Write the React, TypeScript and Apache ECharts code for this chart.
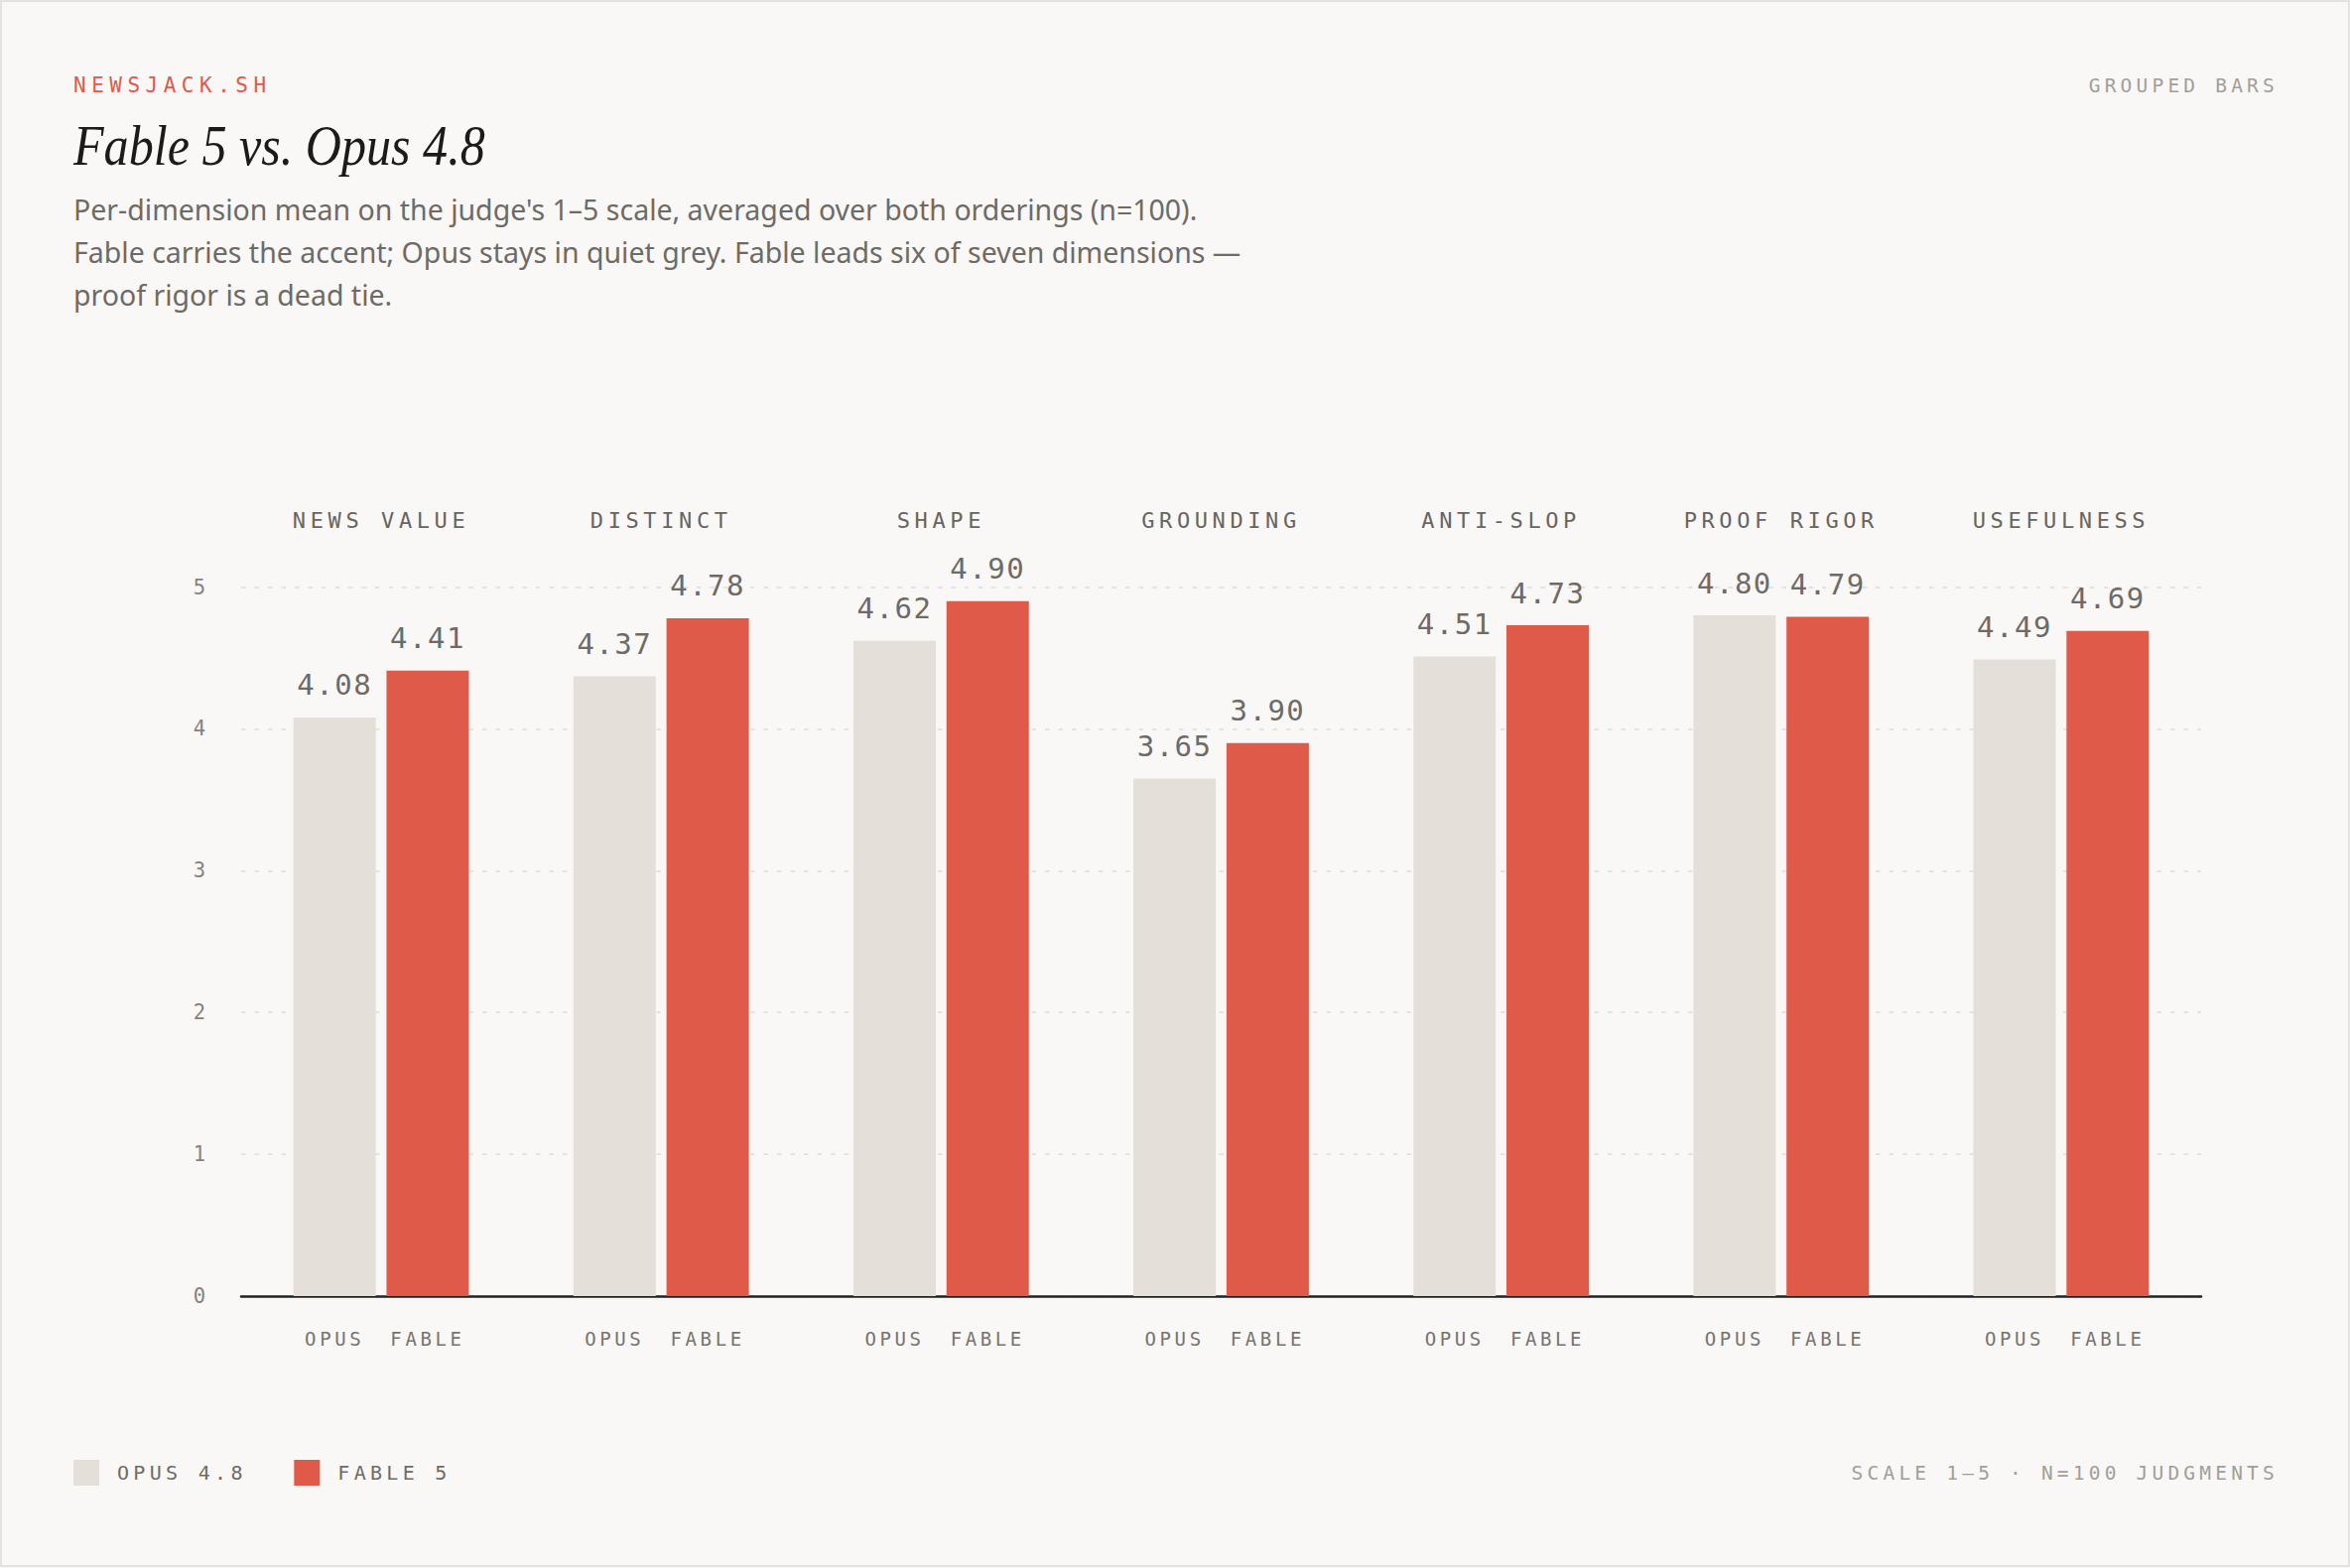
import React, { useEffect, useRef } from 'react';
import * as echarts from 'echarts';

// ---- data ----
const categories = ['NEWS VALUE', 'DISTINCT', 'SHAPE', 'GROUNDING', 'ANTI-SLOP', 'PROOF RIGOR', 'USEFULNESS'];
const opusValues = [4.08, 4.37, 4.62, 3.65, 4.51, 4.8, 4.49];
const fableValues = [4.41, 4.78, 4.9, 3.9, 4.73, 4.79, 4.69];
const seriesNames = ['OPUS 4.8', 'FABLE 5'];
const barTags = ['OPUS', 'FABLE'];
const yMin = 0;
const yMax = 5;
const yInterval = 1;

const brandText = 'NEWSJACK.SH';
const kindText = 'GROUPED BARS';
const titleText = 'Fable 5 vs. Opus 4.8';
const subtitleLines = [
  "Per-dimension mean on the judge's 1\u20135 scale, averaged over both orderings (n=100).",
  'Fable carries the accent; Opus stays in quiet grey. Fable leads six of seven dimensions \u2014',
  'proof rigor is a dead tie.',
];
const footerText = 'SCALE 1\u20135 \u00b7 N=100 JUDGMENTS';

// ---- styles ----
const MONO = '"DejaVu Sans Mono", "Liberation Mono", monospace';
const BG = '#f9f8f6';
const OPUS_COLOR = '#e4e0d9';
const FABLE_COLOR = '#e05a4a';

// letter-spacing by font size (px) for monospace texts
const LETTER_SPACING: Record<string, number> = {
  '21': 5.5, // brand
  '19.5': 4.2, // kind + footer
  '22': 4.6, // category names
  '29': 1.5, // values
  '19': 3.6, // OPUS / FABLE tags
  '20': 4.3, // legend
};

function applySpacing(root: HTMLElement | null) {
  if (!root) return;
  root.querySelectorAll('text').forEach((t) => {
    const s = t.getAttribute('style') || '';
    const m = s.match(/font-size:\s*([\d.]+)px/) || s.match(/([\d.]+)px/);
    if (!m) return;
    if (!/Mono/i.test(s)) return;
    const ls = LETTER_SPACING[String(parseFloat(m[1]))];
    if (ls != null) t.setAttribute('letter-spacing', String(ls));
  });
}

export default function App() {
  const ref = useRef<HTMLDivElement>(null);

  useEffect(() => {
    const el = ref.current!;
    const chart = echarts.init(el, undefined, { renderer: 'svg' });

    const valueLabel = {
      show: true,
      position: 'top' as const,
      distance: 18,
      formatter: (p: any) => Number(p.value).toFixed(2),
      fontFamily: MONO,
      fontSize: 29,
      color: '#6e6a66',
    };

    const option: any = {
      animation: false,
      backgroundColor: BG,
      grid: { left: 243, right: 150, top: 591.5, bottom: 274, containLabel: false },
      legend: {
        data: seriesNames,
        left: 74,
        top: 1471,
        padding: 0,
        icon: 'rect',
        itemWidth: 26,
        itemHeight: 26,
        itemGap: 82,
        selectedMode: false,
        textStyle: { fontFamily: MONO, fontSize: 20, color: '#6f6b67', padding: [0, 0, 0, 13] },
      },
      xAxis: [
        {
          type: 'category',
          data: categories,
          position: 'bottom',
          axisLine: { show: true, lineStyle: { color: '#222222', width: 2.5 } },
          axisTick: { show: false },
          axisLabel: {
            interval: 0,
            margin: 33,
            formatter: () => `{o|${barTags[0]}}{f|${barTags[1]}}`,
            rich: {
              o: { width: 93.8, align: 'center', fontFamily: MONO, fontSize: 19, color: '#77736e' },
              f: { width: 93.8, align: 'center', fontFamily: MONO, fontSize: 19, color: '#77736e' },
            },
          },
        },
        {
          type: 'category',
          data: categories,
          position: 'top',
          axisLine: { show: false },
          axisTick: { show: false },
          axisLabel: { interval: 0, margin: 56, fontFamily: MONO, fontSize: 22, color: '#68645f' },
        },
      ],
      yAxis: {
        type: 'value',
        min: yMin,
        max: yMax,
        interval: yInterval,
        axisLine: { show: false },
        axisTick: { show: false },
        axisLabel: { margin: 36, fontFamily: MONO, fontSize: 20.5, color: '#86827d' },
        splitLine: { lineStyle: { type: [4.5, 9], color: '#dfdcd7', width: 1.5 } },
      },
      series: [
        {
          name: seriesNames[0],
          type: 'bar',
          xAxisIndex: 0,
          data: opusValues,
          barWidth: 83,
          barGap: '13%',
          itemStyle: { color: OPUS_COLOR },
          label: valueLabel,
          emphasis: { disabled: true },
        },
        {
          name: seriesNames[1],
          type: 'bar',
          xAxisIndex: 0,
          data: fableValues,
          barWidth: 83,
          barGap: '13%',
          itemStyle: { color: FABLE_COLOR },
          label: valueLabel,
          emphasis: { disabled: true },
        },
      ],
      graphic: [
        {
          type: 'rect',
          silent: true,
          shape: { x: 1, y: 1, width: 2366, height: 1577 },
          style: { fill: 'none', stroke: '#e4e2de', lineWidth: 2 },
        },
        {
          type: 'text',
          x: 74,
          y: 86,
          style: { text: brandText, fill: FABLE_COLOR, fontFamily: MONO, fontSize: 21, verticalAlign: 'middle', align: 'left' },
        },
        {
          type: 'text',
          x: 2296,
          y: 86,
          style: { text: kindText, fill: '#a29e99', fontFamily: MONO, fontSize: 19.5, verticalAlign: 'middle', align: 'right' },
        },
        {
          type: 'text',
          x: 74,
          y: 147,
          scaleX: 0.895,
          style: {
            text: titleText,
            fill: '#1c1b1a',
            fontFamily: '"Liberation Serif", "DejaVu Serif", serif',
            fontStyle: 'italic',
            fontSize: 56,
            verticalAlign: 'middle',
            align: 'left',
          },
        },
        {
          type: 'text',
          x: 74,
          y: 254,
          style: {
            text: subtitleLines.join('\n'),
            fill: '#6e6a66',
            fontFamily: '"Noto Sans", sans-serif',
            fontSize: 28.5,
            lineHeight: 43,
            verticalAlign: 'middle',
            align: 'left',
          },
        },
        {
          type: 'text',
          x: 2296,
          y: 1484,
          style: { text: footerText, fill: '#a29e99', fontFamily: MONO, fontSize: 19.5, verticalAlign: 'middle', align: 'right' },
        },
      ],
    };

    chart.setOption(option);
    applySpacing(el);
    const onFinished = () => applySpacing(el);
    chart.on('finished', onFinished);
    const t = window.setTimeout(() => applySpacing(el), 50);

    return () => {
      window.clearTimeout(t);
      chart.off('finished', onFinished);
      chart.dispose();
    };
  }, []);

  return (
    <div
      ref={ref}
      style={{ position: 'fixed', left: 0, top: 0, width: 2368, height: 1580, background: BG }}
    />
  );
}
